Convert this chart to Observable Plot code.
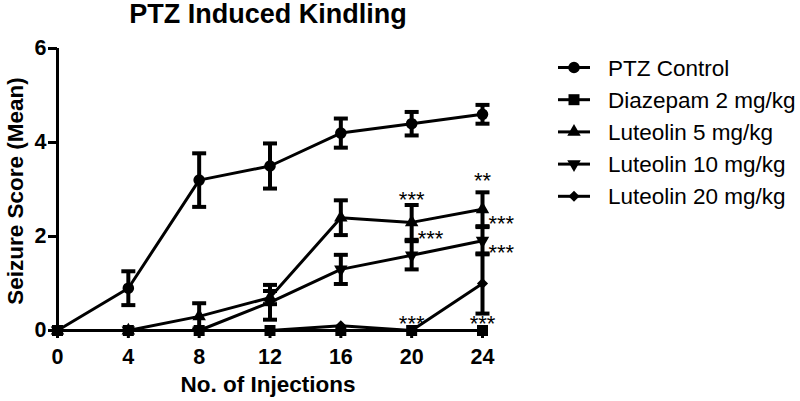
<!DOCTYPE html>
<html>
<head>
<meta charset="utf-8">
<script src="https://cdn.jsdelivr.net/npm/d3@7"></script>
<script src="https://cdn.jsdelivr.net/npm/@observablehq/plot@0.6"></script>
<style>
  html, body { margin: 0; padding: 0; background: white; }
</style>
</head>
<body>
<div id="chart"></div>
<script>
// ---- data ----
const injections = [0, 4, 8, 12, 16, 20, 24];
const seriesNames = ["PTZ Control", "Diazepam 2 mg/kg", "Luteolin 5 mg/kg", "Luteolin 10 mg/kg", "Luteolin 20 mg/kg"];
const ptzMean   = [0, 0.9, 3.2, 3.5, 4.2, 4.4, 4.6];
const ptzSem    = [0, 0.36, 0.57, 0.48, 0.31, 0.25, 0.2];
const diazMean  = [0, 0, 0, 0, 0, 0, 0];
const diazSem   = [0, 0, 0, 0, 0, 0, 0];
const lut5Mean  = [0, 0, 0.3, 0.7, 2.4, 2.3, 2.58];
const lut5Sem   = [0, 0, 0.28, 0.14, 0.37, 0.37, 0.36];
const lut10Mean = [0, 0, 0, 0.6, 1.3, 1.6, 1.91];
const lut10Sem  = [0, 0, 0, 0.37, 0.31, 0.3, 0.29];
const lut20Mean = [0, 0, 0, 0, 0.1, 0, 1.0];
const lut20Sem  = [0, 0, 0, 0, 0, 0, 0.64];
const xTicks = [0, 4, 8, 12, 16, 20, 24];
const yTicks = [0, 2, 4, 6];
const annotLabels = ["***", "**", "***", "***", "***", "***", "***"];
const annotX      = [20, 24, 24, 20, 24, 20, 24];
const annotY      = [2.8, 3.2, 2.3, 2.0, 1.7, 0.15, 0.15];
const annotPlace  = ["top", "top", "right", "right", "right", "top", "top"];

// ---- build table ----
const means = [ptzMean, diazMean, lut5Mean, lut10Mean, lut20Mean];
const sems  = [ptzSem, diazSem, lut5Sem, lut10Sem, lut20Sem];
const rows = seriesNames.flatMap((name, s) =>
  injections.map((x, i) => ({series: name, x, mean: means[s][i], sem: sems[s][i]})));
const errRows = rows.filter(d => d.sem > 0);
const annots = annotLabels.map((label, i) => ({label, x: annotX[i], y: annotY[i], place: annotPlace[i]}));

// ---- custom symbols ----
const triDown = {
  draw(ctx, size) {
    const s = Math.sqrt(size / (Math.sqrt(3) / 4));
    const h = s * Math.sqrt(3) / 2;
    ctx.moveTo(-s / 2, -h / 3);
    ctx.lineTo(s / 2, -h / 3);
    ctx.lineTo(0, 2 * h / 3);
    ctx.closePath();
  }
};
const capSym = { draw(ctx, size) { ctx.moveTo(-7, 0); ctx.lineTo(7, 0); } };
const symbolOf = {
  "PTZ Control": d3.symbolCircle,
  "Diazepam 2 mg/kg": d3.symbolSquare,
  "Luteolin 5 mg/kg": d3.symbolTriangle,
  "Luteolin 10 mg/kg": triDown,
  "Luteolin 20 mg/kg": d3.symbolDiamond2
};
const radiusOf = {
  "PTZ Control": 5.8,
  "Diazepam 2 mg/kg": 6.2,
  "Luteolin 5 mg/kg": 5,
  "Luteolin 10 mg/kg": 5,
  "Luteolin 20 mg/kg": 5
};

const font = "'Liberation Sans', Arial, sans-serif";

const dotMarks = seriesNames.map(name =>
  Plot.dot(rows.filter(d => d.series === name), {
    x: "x", y: "mean", symbol: () => symbolOf[name], r: radiusOf[name], fill: "black", stroke: "none"
  }));

const chart = Plot.plot({
  width: 800,
  height: 401,
  marginLeft: 57,
  marginRight: 318,
  marginTop: 48,
  marginBottom: 71,
  x: {domain: [0, 24]},
  y: {domain: [0, 6]},
  symbol: {type: "identity"},
  style: {fontFamily: font, background: "white", color: "black", overflow: "visible"},
  marks: [
    Plot.axisX({ticks: xTicks, tickSize: 8, tickPadding: 10, tickFormat: d3.format("d"), fontSize: 21.5, fontWeight: "bold", strokeWidth: 3, label: null}),
    Plot.axisY({ticks: yTicks, tickSize: 9, tickPadding: 2, tickFormat: d3.format("d"), fontSize: 21.5, fontWeight: "bold", strokeWidth: 3, label: null}),
    Plot.ruleX([0], {strokeWidth: 3}),
    Plot.ruleY([0], {strokeWidth: 3}),
    Plot.line(rows, {x: "x", y: "mean", z: "series", stroke: "black", strokeWidth: 3}),
    Plot.ruleX(errRows, {x: "x", y1: d => d.mean - d.sem, y2: d => d.mean + d.sem, stroke: "black", strokeWidth: 4}),
    Plot.dot(errRows, {x: "x", y: d => d.mean + d.sem, symbol: () => capSym, r: 4, fill: "none", stroke: "black", strokeWidth: 4}),
    Plot.dot(errRows, {x: "x", y: d => d.mean - d.sem, symbol: () => capSym, r: 4, fill: "none", stroke: "black", strokeWidth: 4}),
    ...dotMarks,
    Plot.text(annots.filter(d => d.place === "top"), {x: "x", y: "y", text: "label", fontSize: 22, dy: 1, textAnchor: "middle", fill: "black"}),
    Plot.text(annots.filter(d => d.place === "right"), {x: "x", y: "y", text: "label", fontSize: 22, dy: 2, dx: 6, textAnchor: "start", fill: "black"})
  ]
});

const svg = d3.select(chart);

// title
svg.append("text")
  .attr("x", 268).attr("y", 23)
  .attr("text-anchor", "middle")
  .style("font-family", font).style("font-size", "27px").style("font-weight", "bold")
  .text("PTZ Induced Kindling");

// axis titles
svg.append("text")
  .attr("x", 268).attr("y", 392)
  .attr("text-anchor", "middle")
  .style("font-family", font).style("font-size", "22.5px").style("font-weight", "bold")
  .text("No. of Injections");
svg.append("text")
  .attr("transform", "translate(23,191) rotate(-90)")
  .attr("text-anchor", "middle")
  .style("font-family", font).style("font-size", "22.5px").style("font-weight", "bold")
  .text("Seizure Score (Mean)");

// legend
const lg = svg.append("g");
seriesNames.forEach((name, i) => {
  const cy = 67.5 + i * 32.2;
  lg.append("line").attr("x1", 558).attr("x2", 590).attr("y1", cy).attr("y2", cy)
    .attr("stroke", "black").attr("stroke-width", 3);
  lg.append("path")
    .attr("transform", `translate(574,${cy})`)
    .attr("d", d3.symbol().type(symbolOf[name]).size(Math.PI * radiusOf[name] ** 2)())
    .attr("fill", "black");
  lg.append("text").attr("x", 608).attr("y", cy + 8)
    .attr("text-anchor", "start")
    .style("font-family", font).style("font-size", "22.5px")
    .text(name);
});

document.getElementById("chart").appendChild(chart);
</script>
</body>
</html>
